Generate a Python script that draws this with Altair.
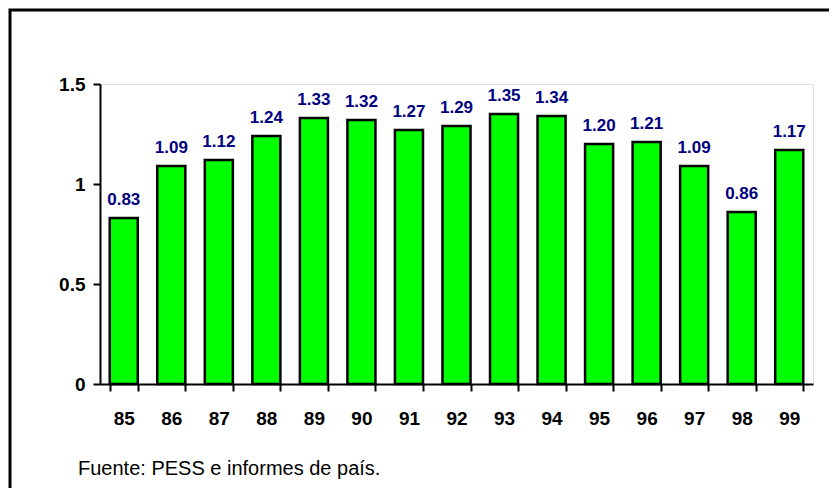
import altair as alt
import pandas as pd

years = ["85", "86", "87", "88", "89", "90", "91", "92", "93", "94", "95", "96", "97", "98", "99"]
values = [0.83, 1.09, 1.12, 1.24, 1.33, 1.32, 1.27, 1.29, 1.35, 1.34, 1.20, 1.21, 1.09, 0.86, 1.17]
y_ticks = [0, 0.5, 1, 1.5]
source = "Fuente: PESS e informes de país."

df = pd.DataFrame({"year": years, "value": values})
src_df = pd.DataFrame({"text": [source]})

FONT = "Arial"

x_enc = alt.X(
    "year:N",
    sort=years,
    scale=alt.Scale(paddingInner=0.41, paddingOuter=0.205),
    axis=alt.Axis(
        title=None,
        labelAngle=0,
        labelFont=FONT,
        labelFontSize=19,
        labelFontWeight="bold",
        labelColor="black",
        labelPadding=18,
        tickBand="extent",
        tickSize=7,
        tickWidth=2,
        tickColor="black",
        domainColor="black",
        domainWidth=2,
    ),
)
y_enc = alt.Y(
    "value:Q",
    scale=alt.Scale(domain=[0, 1.5], nice=False),
    axis=alt.Axis(
        title=None,
        values=y_ticks,
        labelExpr="datum.value == 0 ? '0' : format(datum.value, '.1~f')",
        labelFont=FONT,
        labelFontSize=19,
        labelFontWeight="bold",
        labelColor="black",
        labelPadding=8,
        tickSize=7,
        tickWidth=2,
        tickColor="black",
        domainColor="black",
        domainWidth=2,
        grid=False,
    ),
)

base = alt.Chart(df)

frame = alt.Chart(src_df).mark_rect(fill=None, stroke="black", strokeWidth=3).encode(
    x=alt.value(-90), x2=alt.value(760), y=alt.value(-74), y2=alt.value(430)
)

bars = base.mark_bar(color="#00FF00", stroke="black", strokeWidth=2.5).encode(x=x_enc, y=y_enc)

labels = base.mark_text(
    font=FONT, fontSize=17, fontWeight="bold", color="#000080", baseline="alphabetic", dy=-13
).encode(x=alt.X("year:N", sort=years), y="value:Q", text=alt.Text("value:Q", format=".2f"))

src_text = alt.Chart(src_df).mark_text(
    font=FONT, fontSize=20, color="black", align="left", baseline="alphabetic"
).encode(x=alt.value(-22), y=alt.value(391), text="text:N")

chart = (
    alt.layer(frame, bars, labels, src_text)
    .properties(
        width=713,
        height=300,
        autosize=alt.AutoSizeParams(type="none"),
        padding={"left": 92, "top": 76, "right": 16, "bottom": 104},
    )
    .configure_view(stroke=None)
    .configure(background="white")
)

chart.save("out.html", embed_options={"renderer": "svg", "actions": False})
